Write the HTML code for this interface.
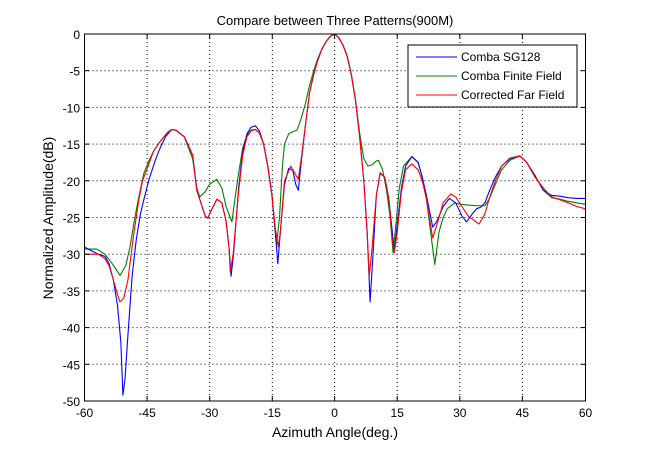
<!DOCTYPE html>
<html><head><meta charset="utf-8"><style>
body{margin:0;background:#fff;}
svg{display:block;font-family:"Liberation Sans",sans-serif;}
</style></head><body>
<svg width="646" height="450" viewBox="0 0 646 450" xmlns="http://www.w3.org/2000/svg">
<rect width="646" height="450" fill="#fff"/>
<text x="335" y="25" font-size="13" text-anchor="middle">Compare between Three Patterns(900M)</text>
<g stroke="#000" stroke-width="1" stroke-dasharray="1,3">
<line x1="147.1" y1="34" x2="147.1" y2="401"/><line x1="209.7" y1="34" x2="209.7" y2="401"/>
<line x1="272.3" y1="34" x2="272.3" y2="401"/><line x1="334.6" y1="34" x2="334.6" y2="401"/>
<line x1="397.2" y1="34" x2="397.2" y2="401"/><line x1="459.8" y1="34" x2="459.8" y2="401"/>
<line x1="522.4" y1="34" x2="522.4" y2="401"/>
<line x1="84.5" y1="70.7" x2="585.5" y2="70.7"/><line x1="84.5" y1="107.4" x2="585.5" y2="107.4"/>
<line x1="84.5" y1="144.1" x2="585.5" y2="144.1"/><line x1="84.5" y1="180.8" x2="585.5" y2="180.8"/>
<line x1="84.5" y1="217.5" x2="585.5" y2="217.5"/><line x1="84.5" y1="254.2" x2="585.5" y2="254.2"/>
<line x1="84.5" y1="290.9" x2="585.5" y2="290.9"/><line x1="84.5" y1="327.6" x2="585.5" y2="327.6"/>
<line x1="84.5" y1="364.3" x2="585.5" y2="364.3"/>
</g>
<g transform="translate(334.6,34) scale(4.175,-7.34)" fill="none" stroke-width="1.1" stroke-linejoin="round">
<polyline vector-effect="non-scaling-stroke" stroke="#008000" points="-60,-29.3 -57,-29.3 -55,-30 -53,-31.5 -51.4,-32.9 -50,-31.5 -49,-29 -48,-25.5 -47,-22.5 -45.7,-19 -44.5,-17.3 -43.4,-16 -42,-14.8 -40,-13.4 -39,-13 -38,-13.1 -36,-14 -34,-17 -33,-21 -32.3,-22.2 -31,-21.5 -30,-20.5 -28.2,-19.8 -27,-21 -26,-23.5 -24.6,-25.6 -24,-23 -23,-19 -22,-15.5 -21,-13.8 -20,-13.1 -19,-13 -18,-13.5 -17,-15 -16,-18 -15,-22 -14.3,-26.5 -13.9,-28.7 -13.2,-25 -12.5,-18 -12,-15 -11,-13.6 -10,-13.3 -9,-13.1 -8,-11.5 -7,-9.5 -6,-7 -5,-5 -4,-3.3 -3,-2 -2,-1 -1,-0.3 0,0 1,-0.5 2,-1.5 3,-3 4,-5.5 5,-9 6,-13.5 7,-17 8,-18 9,-17.8 10,-17.3 10.5,-17.2 11.5,-18.5 12.5,-21.5 13.3,-25 14,-29.8 14.5,-27 15.5,-21 16.5,-18 18.5,-16.7 20,-17.5 21,-19.5 22,-22.5 23,-27 24,-31.4 25,-27 26,-25 27,-23.8 28.8,-23 30,-23.2 32,-23.3 34,-23.4 36,-23.4 37,-22.5 38.5,-20.5 40,-18.5 42,-17.2 44.4,-16.6 46,-17.5 48,-19.3 50,-21.3 52,-22.3 54,-22.5 56,-22.8 58,-23 60,-23.2"/>
<polyline vector-effect="non-scaling-stroke" stroke="#0000ff" points="-60,-29 -58,-29.6 -56.6,-30 -55,-30.3 -54,-31.3 -53,-33.5 -52,-37 -51.2,-42 -50.7,-49.2 -50.2,-47 -49.5,-41 -48.5,-33 -47.5,-28 -46.5,-24.5 -45.7,-22.6 -44.5,-19.9 -43,-17.3 -42,-15.8 -40.5,-14 -39,-13 -38,-13.1 -36,-14 -34,-16.5 -33,-21.3 -31,-24.8 -30.4,-25.1 -29.5,-24 -28.2,-22.5 -27,-23 -26,-25.5 -25.3,-29 -24.8,-33 -24.2,-30 -23,-21 -22,-16 -21,-13.6 -20,-12.7 -19,-12.5 -18,-13.2 -17,-15 -16,-18 -15,-22 -14.2,-27 -13.6,-31.3 -13,-27 -12,-20.5 -11,-18.3 -10,-18.6 -9.3,-20.5 -8.7,-21.3 -8,-17.5 -7,-12.5 -6,-8 -5,-5.5 -4,-3.5 -3,-2 -2,-1 -1,-0.3 0,0 1,-0.5 2,-1.5 3,-3 4,-5.5 5,-9 6,-14 7,-20 7.8,-27 8.5,-36.5 9.2,-30 10,-22 10.9,-19 12,-19.5 13,-22.5 13.7,-26.3 14.3,-29.5 15,-26 16,-21 17,-18 18.5,-16.7 20,-17.5 21,-19.5 22,-22 23.5,-26.3 24.5,-25.5 26,-23.5 27.5,-22.4 29,-23 30.5,-24.8 31.6,-25.6 33,-24.5 34,-23.8 35,-23.6 36,-23 37,-21.5 38.5,-19.5 40,-18 42,-17 44.4,-16.6 46,-17.5 48,-19.3 50,-21.3 52,-22 54,-22.1 56,-22.3 58,-22.4 60,-22.4"/>
<polyline vector-effect="non-scaling-stroke" stroke="#ff0000" points="-60,-30 -56.6,-30 -55,-30.6 -54,-31.6 -53,-33.5 -52,-35.5 -51.4,-36.5 -50.5,-36 -49.5,-33.5 -48.1,-27.2 -46.9,-22.6 -46,-20 -45,-18.5 -43.4,-16 -42,-14.8 -40,-13.4 -39,-13 -38,-13.1 -36,-14 -34,-16.5 -33,-21.3 -31,-24.8 -30.4,-25.1 -29.5,-24 -28.2,-22.5 -27,-23 -26,-25.5 -25.3,-29 -25,-32.4 -24.3,-30 -23,-21.5 -22,-16.5 -21,-14 -20,-13.2 -19,-13 -18,-13.5 -17,-15 -16,-18 -15,-22 -14.2,-26.5 -13.5,-29 -13,-27 -12,-20 -10.5,-18 -9.5,-19 -8.7,-19.8 -8,-17 -7,-12.5 -6,-8 -5,-5.5 -4,-3.5 -3,-2 -2,-1 -1,-0.3 0,0 1,-0.5 2,-1.5 3,-3 4,-5.5 5,-9 6,-14 7,-20 7.8,-27 8.3,-33 9,-29 10,-22 10.9,-18.9 12,-19.5 13,-22.5 13.7,-27.5 14.3,-29.8 15,-27 16,-21.5 17,-18.5 18.5,-17.7 20,-18.5 21,-20 22,-22.5 23.5,-27.8 24.5,-26 26,-23 27.8,-21.8 29,-22.2 30.5,-23.5 32,-24.8 34.6,-25.9 36,-24.5 37,-22.5 38.5,-20 40,-18 42,-16.9 44.4,-16.6 46,-17.5 48,-19.5 50,-21 52,-22.2 54,-22.6 56,-23 58,-23.5 60,-23.8"/>
</g>
<rect x="84.5" y="34" width="501" height="367" fill="none" stroke="#000" stroke-width="1"/>
<g stroke="#000">
<line x1="147.1" y1="401" x2="147.1" y2="396"/><line x1="209.7" y1="401" x2="209.7" y2="396"/><line x1="272.3" y1="401" x2="272.3" y2="396"/><line x1="334.6" y1="401" x2="334.6" y2="396"/><line x1="397.2" y1="401" x2="397.2" y2="396"/><line x1="459.8" y1="401" x2="459.8" y2="396"/><line x1="522.4" y1="401" x2="522.4" y2="396"/>
<line x1="147.1" y1="34" x2="147.1" y2="39"/><line x1="209.7" y1="34" x2="209.7" y2="39"/><line x1="272.3" y1="34" x2="272.3" y2="39"/><line x1="334.6" y1="34" x2="334.6" y2="39"/><line x1="397.2" y1="34" x2="397.2" y2="39"/><line x1="459.8" y1="34" x2="459.8" y2="39"/><line x1="522.4" y1="34" x2="522.4" y2="39"/>
<line x1="585.5" y1="70.7" x2="580.5" y2="70.7"/><line x1="585.5" y1="107.4" x2="580.5" y2="107.4"/><line x1="585.5" y1="144.1" x2="580.5" y2="144.1"/><line x1="585.5" y1="180.8" x2="580.5" y2="180.8"/><line x1="585.5" y1="217.5" x2="580.5" y2="217.5"/><line x1="585.5" y1="254.2" x2="580.5" y2="254.2"/><line x1="585.5" y1="290.9" x2="580.5" y2="290.9"/><line x1="585.5" y1="327.6" x2="580.5" y2="327.6"/><line x1="585.5" y1="364.3" x2="580.5" y2="364.3"/>
<line x1="84.5" y1="70.7" x2="89.5" y2="70.7"/><line x1="84.5" y1="107.4" x2="89.5" y2="107.4"/><line x1="84.5" y1="144.1" x2="89.5" y2="144.1"/><line x1="84.5" y1="180.8" x2="89.5" y2="180.8"/><line x1="84.5" y1="217.5" x2="89.5" y2="217.5"/><line x1="84.5" y1="254.2" x2="89.5" y2="254.2"/><line x1="84.5" y1="290.9" x2="89.5" y2="290.9"/><line x1="84.5" y1="327.6" x2="89.5" y2="327.6"/><line x1="84.5" y1="364.3" x2="89.5" y2="364.3"/>
</g>
<g font-size="12" text-anchor="end">
<text x="80" y="39">0</text><text x="80" y="75.7">-5</text><text x="80" y="112.4">-10</text><text x="80" y="149.1">-15</text><text x="80" y="185.8">-20</text><text x="80" y="222.5">-25</text><text x="80" y="259.2">-30</text><text x="80" y="295.9">-35</text><text x="80" y="332.6">-40</text><text x="80" y="369.3">-45</text><text x="80" y="406">-50</text>
</g>
<g font-size="12" text-anchor="middle">
<text x="84.5" y="417">-60</text><text x="147.1" y="417">-45</text><text x="209.7" y="417">-30</text><text x="272.3" y="417">-15</text><text x="334.6" y="417">0</text><text x="397.2" y="417">15</text><text x="459.8" y="417">30</text><text x="522.4" y="417">45</text><text x="585.5" y="417">60</text>
</g>
<text x="335" y="437" font-size="14" text-anchor="middle">Azimuth Angle(deg.)</text>
<text transform="translate(53,218) rotate(-90)" font-size="14" text-anchor="middle">Normalized Amplitude(dB)</text>
<rect x="408" y="45" width="169" height="62" fill="#fff" stroke="#000"/>
<line x1="416" y1="57" x2="457" y2="57" stroke="#0000ff"/>
<line x1="416" y1="76" x2="457" y2="76" stroke="#008000"/>
<line x1="416" y1="95" x2="457" y2="95" stroke="#ff0000"/>
<g font-size="12"><text x="461" y="61">Comba SG128</text><text x="461" y="80">Comba Finite Field</text><text x="461" y="99">Corrected Far Field</text></g>
</svg>
</body></html>
